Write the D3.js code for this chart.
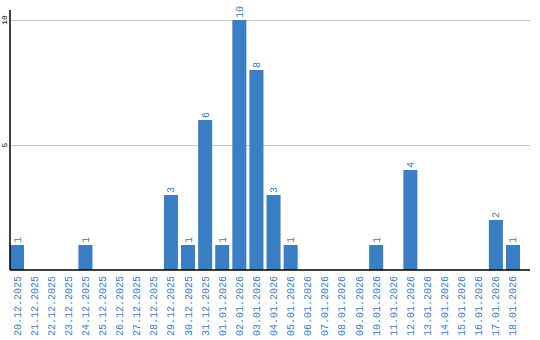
<!DOCTYPE html>
<html>
<head>
<meta charset="utf-8">
<script src="https://cdn.jsdelivr.net/npm/d3@7"></script>
<style>
  body { margin: 0; background: #fff; }
  svg { display: block; }
</style>
</head>
<body>
<svg id="chart" width="540" height="340"></svg>
<script>
const dates = [
    "20.12.2025", "21.12.2025", "22.12.2025", "23.12.2025", "24.12.2025",
    "25.12.2025", "26.12.2025", "27.12.2025", "28.12.2025", "29.12.2025",
    "30.12.2025", "31.12.2025", "01.01.2026", "02.01.2026", "03.01.2026",
    "04.01.2026", "05.01.2026", "06.01.2026", "07.01.2026", "08.01.2026",
    "09.01.2026", "10.01.2026", "11.01.2026", "12.01.2026", "13.01.2026",
    "14.01.2026", "15.01.2026", "16.01.2026", "17.01.2026", "18.01.2026"
];
const counts = [1, 0, 0, 0, 1, 0, 0, 0, 0, 3, 1, 6, 1, 10, 8, 3, 1, 0, 0, 0, 0, 1, 0, 4, 0, 0, 0, 0, 2, 1];
const y_ticks = [5, 10];

const bar_color = "#3a7ec4";
const font = "'Liberation Mono', 'Courier New', monospace";

const svg = d3.select("#chart");
const plot_left = 10, plot_right = 520, plot_top = 20, baseline = 270;

const x = d3.scaleBand()
    .domain(dates)
    .range([plot_left, plot_right])
    .paddingInner(0.18)
    .paddingOuter(0);

const y = d3.scaleLinear()
    .domain([0, 10])
    .range([baseline, plot_top]);

// grid lines
svg.append("g")
    .selectAll("line")
    .data(y_ticks)
    .enter()
    .append("line")
    .attr("x1", plot_left)
    .attr("x2", 530)
    .attr("y1", d => y(d) + 0.5)
    .attr("y2", d => y(d) + 0.5)
    .attr("stroke", "#c8c8c8")
    .attr("stroke-width", 1);

// y tick labels
svg.append("g")
    .selectAll("text")
    .data(y_ticks)
    .enter()
    .append("text")
    .attr("transform", d => `translate(4.5, ${y(d)}) rotate(-90)`)
    .attr("text-anchor", "middle")
    .attr("dy", "0.35em")
    .attr("font-family", font)
    .attr("font-size", 8)
    .attr("fill", "#000")
    .text(d => d);

// bars
const data = dates.map((d, i) => ({ date: d, value: counts[i] }));
svg.append("g")
    .selectAll("rect")
    .data(data.filter(d => d.value > 0))
    .enter()
    .append("rect")
    .attr("x", d => x(d.date))
    .attr("y", d => y(d.value))
    .attr("width", x.bandwidth())
    .attr("height", d => baseline - y(d.value))
    .attr("fill", bar_color);

// value labels
svg.append("g")
    .selectAll("text")
    .data(data.filter(d => d.value > 0))
    .enter()
    .append("text")
    .attr("transform", d => `translate(${x(d.date) + x.bandwidth() / 2}, ${y(d.value) - 2}) rotate(-90)`)
    .attr("text-anchor", "start")
    .attr("dy", "0.35em")
    .attr("font-family", font)
    .attr("font-size", 10)
    .attr("fill", bar_color)
    .text(d => d.value);

// date labels
svg.append("g")
    .selectAll("text")
    .data(dates)
    .enter()
    .append("text")
    .attr("transform", d => `translate(${x(d) + x.bandwidth() / 2}, 276) rotate(-90)`)
    .attr("text-anchor", "end")
    .attr("dy", "0.35em")
    .attr("font-family", font)
    .attr("font-size", 10)
    .attr("fill", bar_color)
    .text(d => d);

// axes lines
svg.append("line")
    .attr("x1", plot_left).attr("x2", plot_left)
    .attr("y1", 10).attr("y2", baseline)
    .attr("stroke", "#000").attr("stroke-width", 1.5);
svg.append("line")
    .attr("x1", plot_left).attr("x2", 530)
    .attr("y1", baseline).attr("y2", baseline)
    .attr("stroke", "#000").attr("stroke-width", 1.5);
</script>
</body>
</html>
